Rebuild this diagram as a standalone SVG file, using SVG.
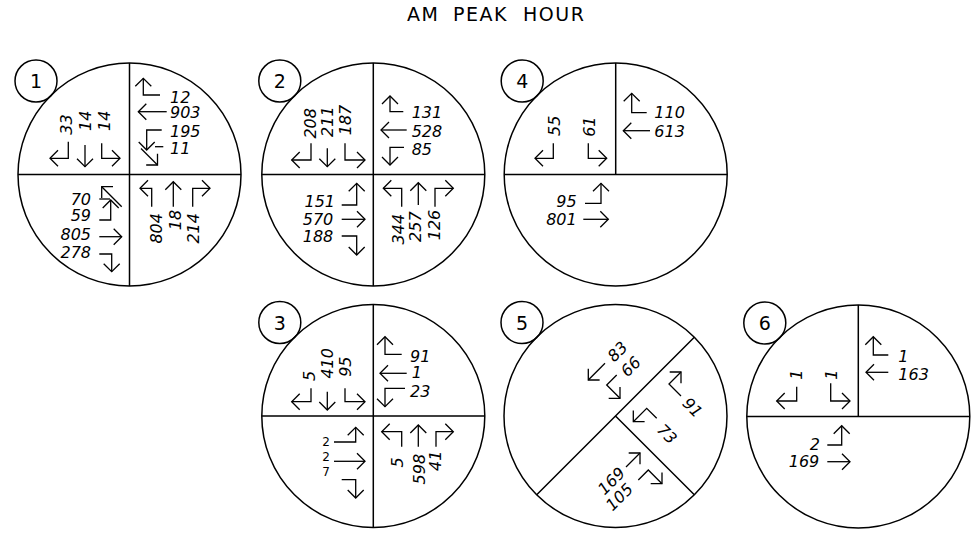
<svg xmlns="http://www.w3.org/2000/svg" width="971" height="540" viewBox="0 0 971 540">
<style>
.c{fill:none;stroke:#000;stroke-width:1.5}
.l{fill:none;stroke:#000;stroke-width:1.5}
.a{fill:none;stroke:#000;stroke-width:1.3;marker-end:url(#ah)}
.n{font-family:"DejaVu Sans","Liberation Sans",sans-serif;font-style:italic;font-size:16px;fill:#000}
.r{font-family:"DejaVu Sans","Liberation Sans",sans-serif;font-style:italic;font-size:16px;fill:#000;text-anchor:middle;dominant-baseline:central}
.e{text-anchor:end}
.s{font-family:"DejaVu Sans","Liberation Sans",sans-serif;font-size:12px;fill:#000;text-anchor:end}
.id{font-family:"DejaVu Sans","Liberation Sans",sans-serif;font-size:19px;fill:#000;text-anchor:middle}
.title{font-family:"DejaVu Sans","Liberation Sans",sans-serif;font-size:19px;fill:#000;letter-spacing:1.5px}
</style>
<defs>
<marker id="ah" viewBox="-10 -10 20 20" markerWidth="20" markerHeight="20" markerUnits="userSpaceOnUse" orient="auto" refX="0" refY="0">
<path d="M-8,-8 L0,0 L-8,8" fill="none" stroke="#000" stroke-width="1.3"/>
</marker>
</defs>
<rect width="971" height="540" fill="#fff"/>
<text class="title" y="21"><tspan x="407">AM</tspan><tspan x="453">PEAK</tspan><tspan x="523">HOUR</tspan></text>

<g id="node-1">
<circle class="c" cx="129.5" cy="174.5" r="111.5"/>
<circle class="c" cx="36" cy="81" r="21"/>
<text class="id" x="36" y="88">1</text>
<path class="l" d="M129.5,63 V286 M18,174.5 H241"/>
<path class="a" d="M160,95 H143.3 V78.3"/>
<path class="a" d="M166.7,111.7 H138.3"/>
<path class="a" d="M161.7,130 H146.7 V150"/>
<path class="l" d="M163.3,146.7 H155" style="stroke-width:1.3"/>
<path class="a" d="M141,148.5 L157.5,165"/>
<text class="n" x="170" y="103.3">12</text>
<text class="n" x="170" y="118.3">903</text>
<text class="n" x="170" y="137">195</text>
<text class="n" x="170" y="154">11</text>
<path class="a" d="M68.3,141.7 V158.3 H50"/>
<path class="a" d="M85,145 V166.7"/>
<path class="a" d="M101.7,143.3 V158.3 H120"/>
<text class="r" transform="translate(66.3,124.5) rotate(-90)">33</text>
<text class="r" transform="translate(85.3,120.8) rotate(-90)">14</text>
<text class="r" transform="translate(104.2,120.8) rotate(-90)">14</text>
<path class="l" d="M99.3,199 H110" style="stroke-width:1.3"/>
<path class="a" d="M121.7,206.7 L101.7,186.7"/>
<path class="a" d="M99.3,220 H110.7 V200"/>
<path class="a" d="M99.3,236.7 H121.7"/>
<path class="a" d="M99.3,254 H111.7 V271.7"/>
<text class="n e" x="91" y="205">70</text>
<text class="n e" x="91" y="220.7">59</text>
<text class="n e" x="91" y="240">805</text>
<text class="n e" x="91" y="258.3">278</text>
<path class="a" d="M151.7,206.7 V188.3 H140"/>
<path class="a" d="M173.3,206.7 V181.7"/>
<path class="a" d="M192.7,206.7 V188.3 H210"/>
<text class="r" transform="translate(156.7,228.3) rotate(-90)">804</text>
<text class="r" transform="translate(175,220) rotate(-90)">18</text>
<text class="r" transform="translate(193.3,228.3) rotate(-90)">214</text>
</g>

<g id="node-2">
<circle class="c" cx="373.3" cy="174.5" r="111.5"/>
<circle class="c" cx="279.8" cy="81" r="21"/>
<text class="id" x="279.8" y="88">2</text>
<path class="l" d="M373.3,63 V286 M261.8,174.5 H484.8"/>
<path class="a" d="M403.3,111.7 H390 V96"/>
<path class="a" d="M406.7,130 H381"/>
<path class="a" d="M404,147.3 H390 V165"/>
<text class="n" x="411.7" y="118.3">131</text>
<text class="n" x="411.7" y="136.7">528</text>
<text class="n" x="411.7" y="155">85</text>
<path class="a" d="M311,143.3 V160 H291.7"/>
<path class="a" d="M327.3,148.3 V166.7"/>
<path class="a" d="M345,143.3 V160 H365"/>
<text class="r" transform="translate(310.8,123.3) rotate(-90)">208</text>
<text class="r" transform="translate(327.5,121.7) rotate(-90)">211</text>
<text class="r" transform="translate(345,120) rotate(-90)">187</text>
<path class="a" d="M341.7,205 H356.7 V183.3"/>
<path class="a" d="M341.7,219.3 H365"/>
<path class="a" d="M341.7,236 H356.7 V255"/>
<text class="n e" x="335" y="206.7">151</text>
<text class="n e" x="333.3" y="225">570</text>
<text class="n e" x="333.3" y="241.7">188</text>
<path class="a" d="M401.7,206.7 V188.3 H383.3"/>
<path class="a" d="M418.3,205 V182.7"/>
<path class="a" d="M435,206.7 V188.3 H453.3"/>
<text class="r" transform="translate(398.3,229.2) rotate(-90)">344</text>
<text class="r" transform="translate(415.8,226.7) rotate(-90)">257</text>
<text class="r" transform="translate(434.2,225) rotate(-90)">126</text>
</g>

<g id="node-4">
<circle class="c" cx="615.7" cy="174.5" r="111.5"/>
<circle class="c" cx="522.2" cy="81" r="21"/>
<text class="id" x="522.2" y="88">4</text>
<path class="l" d="M615.7,63 V174.5 M504.2,174.5 H727.2"/>
<path class="a" d="M646.7,112.7 H631.7 V93.3"/>
<path class="a" d="M650,130.7 H623.3"/>
<text class="n" x="654.3" y="118.3">110</text>
<text class="n" x="654.3" y="136.7">613</text>
<path class="a" d="M553.3,143.3 V158.3 H535"/>
<path class="a" d="M588.3,143.3 V158.3 H606.7"/>
<text class="r" transform="translate(554.2,125.8) rotate(-90)">55</text>
<text class="r" transform="translate(589.2,126.7) rotate(-90)">61</text>
<path class="a" d="M585,203.3 H601 V183.3"/>
<path class="a" d="M583.3,219.3 H608.3"/>
<text class="n e" x="576.7" y="206.7">95</text>
<text class="n e" x="576.7" y="225">801</text>
</g>

<g id="node-3">
<circle class="c" cx="373.3" cy="416" r="111.5"/>
<circle class="c" cx="279.8" cy="322.5" r="21"/>
<text class="id" x="279.8" y="329.5">3</text>
<path class="l" d="M373.3,304.5 V527.5 M261.8,416 H484.8"/>
<path class="a" d="M401.7,354.3 H385 V336.7"/>
<path class="a" d="M406.7,373.3 H380"/>
<path class="a" d="M405,388.3 H385 V406.7"/>
<text class="n" x="410" y="361.7">91</text>
<text class="n" x="411.7" y="378.3">1</text>
<text class="n" x="410" y="396.7">23</text>
<path class="a" d="M311,388.3 V401.7 H291.7"/>
<path class="a" d="M327.3,391.7 V410"/>
<path class="a" d="M345,388.3 V401.7 H365"/>
<text class="r" transform="translate(309.2,375.8) rotate(-90)">5</text>
<text class="r" transform="translate(327.5,363.3) rotate(-90)">410</text>
<text class="r" transform="translate(345.8,366.7) rotate(-90)">95</text>
<path class="a" d="M334,442 H355.7 V427.3"/>
<path class="a" d="M334,461.3 H365"/>
<path class="a" d="M341.7,479.7 H355.7 V498"/>
<text class="s" x="330" y="446.3">2</text>
<text class="s" x="330" y="461.3">2</text>
<text class="s" x="330" y="476.3">7</text>
<path class="a" d="M401.7,446.7 V431.7 H381.7"/>
<path class="a" d="M418.3,446.7 V425"/>
<path class="a" d="M436,446.7 V431.7 H453.3"/>
<text class="r" transform="translate(397.5,462.5) rotate(-90)">5</text>
<text class="r" transform="translate(419.2,469.2) rotate(-90)">598</text>
<text class="r" transform="translate(435,460.8) rotate(-90)">41</text>
</g>

<g id="node-5">
<circle class="c" cx="615.5" cy="416" r="111.5"/>
<circle class="c" cx="522" cy="322.5" r="21"/>
<text class="id" x="522" y="329.5">5</text>
<path class="l" d="M536.7,494.8 L694.3,337.2 M615.5,416 L694.3,494.8"/>
<path class="a" d="M605,363.3 L588.3,380"/>
<path class="a" d="M616.7,375 L606.7,385 L620,398.3"/>
<text class="r" transform="translate(617.5,351.7) rotate(-45)">83</text>
<text class="r" transform="translate(630.8,366.7) rotate(-45)">66</text>
<path class="a" d="M681,396 L669,384 L681,372"/>
<text class="r" transform="translate(692.5,407.5) rotate(45)">91</text>
<path class="a" d="M656.7,418.3 L646.7,408.3 L633.3,421.7"/>
<text class="r" transform="translate(667,434) rotate(45)">73</text>
<path class="a" d="M626,467 L640,453"/>
<path class="a" d="M638.3,480 L648.3,470 L662,483.7"/>
<text class="r" transform="translate(611.5,481) rotate(-45)">169</text>
<text class="r" transform="translate(619.5,497) rotate(-45)">105</text>
</g>

<g id="node-6">
<circle class="c" cx="858.3" cy="416.5" r="111.5"/>
<circle class="c" cx="764.8" cy="323" r="21"/>
<text class="id" x="764.8" y="330">6</text>
<path class="l" d="M858.3,305 V416.5 M746.8,416.5 H969.8"/>
<path class="a" d="M888.3,355 H873.3 V336.7"/>
<path class="a" d="M888.3,372.3 H866"/>
<text class="n" x="898.3" y="361.7">1</text>
<text class="n" x="898.3" y="380">163</text>
<path class="a" d="M796.7,386.7 V401 H776.7"/>
<path class="a" d="M830.7,383.3 V401 H850"/>
<text class="r" transform="translate(796.7,374.7) rotate(-90)">1</text>
<text class="r" transform="translate(831.7,374.7) rotate(-90)">1</text>
<path class="a" d="M827.3,445 H841.7 V425.7"/>
<path class="a" d="M827.3,461.7 H850"/>
<text class="n e" x="820" y="450">2</text>
<text class="n e" x="819.3" y="466.7">169</text>
</g>
<g id="connectors"/>
</svg>
